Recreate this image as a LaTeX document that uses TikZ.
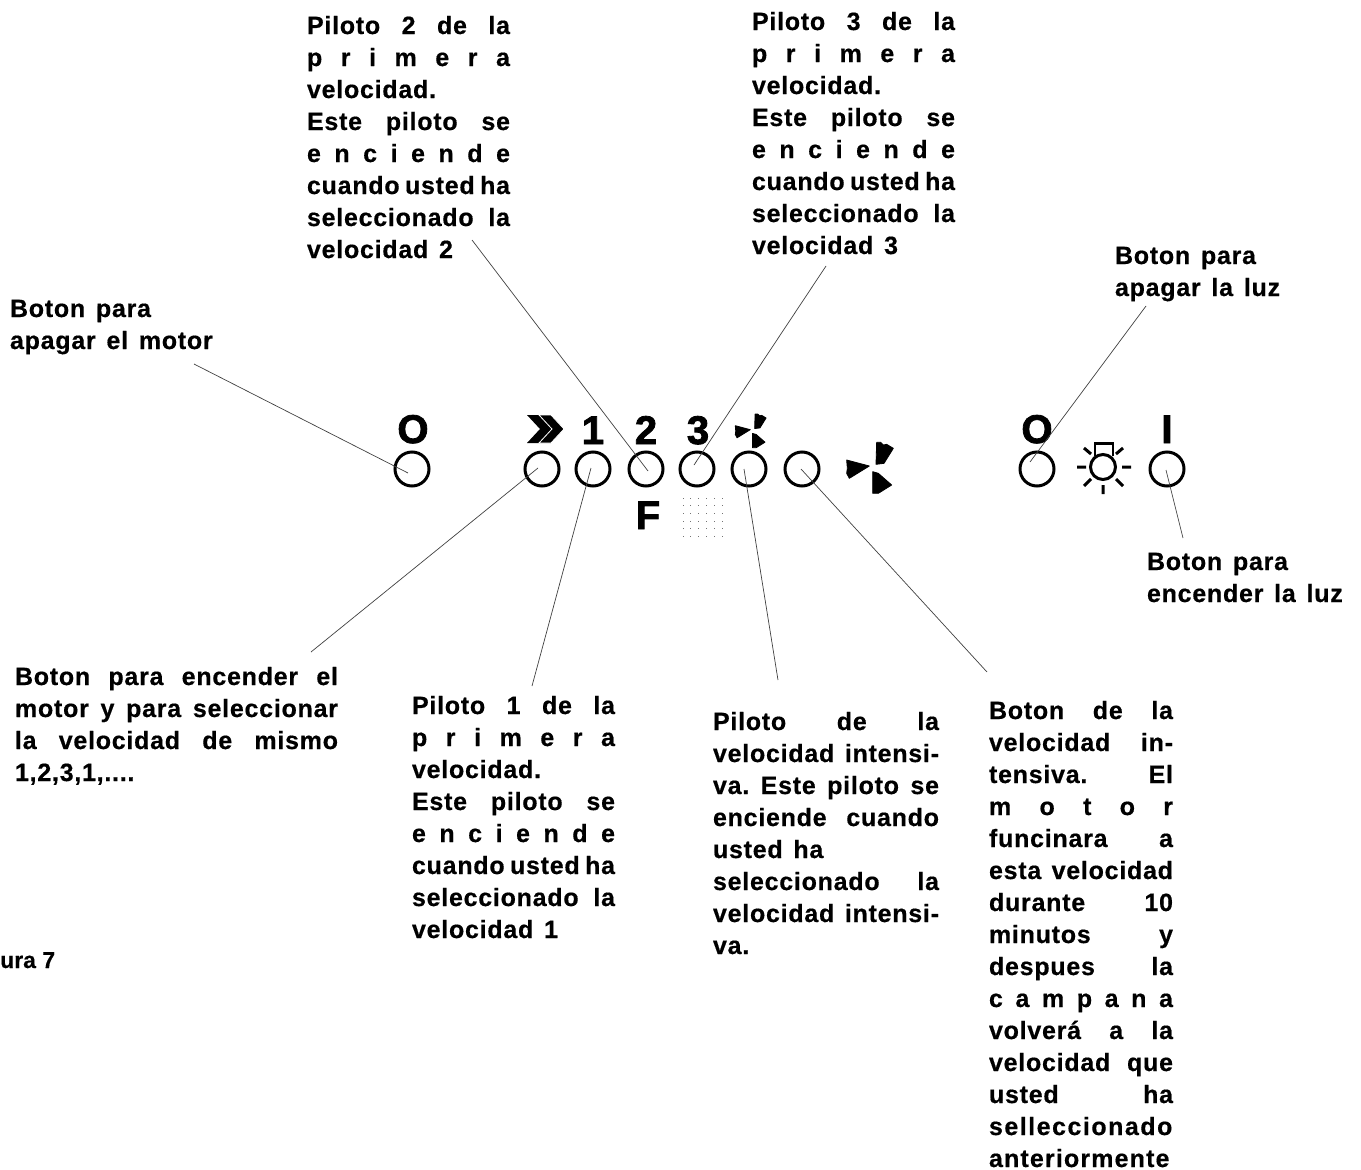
\documentclass[tikz,border=0pt]{standalone}
\usepackage{fontspec}
\setmainfont{Liberation Sans}
\newfontfamily\lblfont{Liberation Sans Bold}[LetterSpace=3,WordSpace=1.4,FakeBold=0.5]
\newfontfamily\symfont{Liberation Sans Bold}[FakeBold=2]
\newfontfamily\figfont{Liberation Sans Bold}[FakeBold=0.5]
\newcommand\Tf{\lblfont\fontsize{25}{32}\selectfont}
\newcommand\Ts{\rule{0pt}{20pt}}
\newcommand\J[2]{\makebox[#1pt][s]{#2}}
\newcommand\tsp{\hspace{3pt plus 30pt}}
\tikzset{
 x=1pt,y=-1pt,
 txt/.style={anchor=north west,inner sep=0pt,outer sep=0pt,align=left,font=\Tf,text=black},
 btn/.style={circle,draw=black,line width=3pt,minimum size=34pt,inner sep=0pt,outer sep=0pt},
 sym/.style={inner sep=0pt,font=\symfont\fontsize{40}{40}\selectfont,text=black,anchor=base},
 lead/.style={draw=black!75,line width=0.7pt},
 wedge/.style={fill=black,draw=black,line width=0.8pt,line join=round},
}
\newcommand\fanshape[3]{% x, y, scale
  \begin{scope}[shift={(#1,#2)},x=#3*0.3333pt,y=-#3*0.3333pt,shift={(-435,-180)}]
  \path[wedge] (438,178) -- (440,112) -- (452,112) -- (460,120) -- (470,118) -- (490,130) -- (462,175) -- cycle;
  \path[wedge] (418,183) -- (350,165) -- (352,190) -- (350,205) -- (358,220) -- cycle;
  \path[wedge] (428,200) -- (428,265) -- (445,265) -- (485,240) -- (445,205) -- cycle;
  \end{scope}
}
\begin{document}
\begin{tikzpicture}
\useasboundingbox (0,0) rectangle (1361,1170);
% buttons
\node[btn] (bMotor) at (412,469) {};
\node[btn] (bSel) at (542,469) {};
\node[btn] (b1) at (593,469) {};
\node[btn] (b2) at (646,469) {};
\node[btn] (b3) at (697,469) {};
\node[btn] (bF) at (749,469) {};
\node[btn] (bI) at (802,469) {};
\node[btn] (bOff) at (1037,469) {};
\node[btn] (bOn) at (1167,469) {};
% symbols
\node[sym] (sO) at (413,443) {O};
\node[sym] (s1) at (593,444) {1};
\node[sym] (s2) at (646,444) {2};
\node[sym] (s3) at (698,444) {3};
\node[sym] (sF) at (648,529) {F};
\node[sym] (sO2) at (1037,443) {O};
\node[sym] (sI) at (1167,443) {I};
\path[fill=black] (527,415) -- (539,415) -- (552,429) -- (539,443) -- (527,443) -- (540,429) -- cycle;
\path[fill=black,draw=white,line width=0.8pt] (539,415) -- (551,415) -- (564,429) -- (551,443) -- (539,443) -- (552,429) -- cycle;
\fanshape{875}{465}{1}
\fanshape{754}{429}{0.66}
% dots
\foreach \i in {0,...,5}\foreach \j in {0,...,5}
  \fill[black!55] ({683+7.8*\i-0.5},{498+7.7*\j-0.5}) rectangle ++(1,1);
% lamp
\node[circle,draw=black,line width=3pt,minimum size=25pt,inner sep=0pt] (lamp) at (1103,467) {};
\draw[black,line width=2.6pt] (1095,456) -- (1095,443.5) -- (1113,443.5) -- (1113,456);
\draw[black,line width=3pt] (1077,467) -- (1086,467) (1122,467) -- (1131,467) (1103,485) -- (1103,494)
  (1084,448) -- (1091,454) (1123,448) -- (1116,454) (1084,486) -- (1091,479) (1123,486) -- (1116,479);
% labels
\node[txt] (tMotor) at (10,297) {\Ts Boton para\\apagar el motor};
\node[txt] (t2) at (307,14) {\Ts\J{203}{Piloto 2 de la}\\\J{203}{p r i m e r a}\\velocidad.\\\J{203}{Este piloto se}\\\J{203}{e n c i e n d e}\\\J{203}{cuando\tsp usted\tsp ha}\\\J{203}{seleccionado\tsp la}\\velocidad 2};
\node[txt] (t3) at (752,10) {\Ts\J{203}{Piloto 3 de la}\\\J{203}{p r i m e r a}\\velocidad.\\\J{203}{Este piloto se}\\\J{203}{e n c i e n d e}\\\J{203}{cuando\tsp usted\tsp ha}\\\J{203}{seleccionado\tsp la}\\velocidad 3};
\node[txt] (tOff) at (1115,244) {\Ts Boton para\\apagar la luz};
\node[txt] (tOn) at (1147,550) {\Ts Boton para\\encender la luz};
\node[txt] (tSel) at (15,665) {\Ts\J{323}{Boton para encender el}\\\J{323}{motor y para seleccionar}\\\J{323}{la velocidad de mismo}\\1,2,3,1,....};
\node[txt] (t1) at (412,694) {\Ts\J{203}{Piloto 1 de la}\\\J{203}{p r i m e r a}\\velocidad.\\\J{203}{Este piloto se}\\\J{203}{e n c i e n d e}\\\J{203}{cuando\tsp usted\tsp ha}\\\J{203}{seleccionado\tsp la}\\velocidad 1};
\node[txt] (tF) at (713,710) {\Ts\J{226}{Piloto de la}\\\J{226}{velocidad\tsp intensi-}\\\J{226}{va.\tsp Este\tsp piloto\tsp se}\\\J{226}{enciende cuando}\\usted ha\\\J{226}{seleccionado la}\\\J{226}{velocidad\tsp intensi-}\\va.};
\node[txt] (tI) at (989,699) {\Ts\J{184}{Boton de la}\\\J{184}{velocidad in-}\\\J{184}{tensiva. El}\\\J{184}{m o t o r}\\\J{184}{funcinara a}\\\J{184}{esta\tsp velocidad}\\\J{184}{durante 10}\\\J{184}{minutos y}\\\J{184}{despues la}\\\J{184}{c a m p a n a}\\\J{184}{volverá a la}\\\J{184}{velocidad\tsp que}\\\J{184}{usted ha}\\{\addfontfeature{LetterSpace=6}selleccionado}\\{\addfontfeature{LetterSpace=4.6}anteriormente}};
\node[anchor=base west,inner sep=0pt,font=\figfont\fontsize{23}{28}\selectfont] (tFig) at (0,968) {ura 7};
% connectors
\coordinate (aMotor) at (194,364); \coordinate (eMotor) at (408,473);
\coordinate (aSel) at (311,652); \coordinate (eSel) at (538,468);
\coordinate (a1) at (532,686); \coordinate (e1) at (591,468);
\coordinate (a2) at (472,240); \coordinate (e2) at (648,471);
\coordinate (a3) at (826,266); \coordinate (e3) at (694,465);
\coordinate (aF) at (778,680); \coordinate (eF) at (744,469);
\coordinate (aI) at (987,672); \coordinate (eI) at (801,469);
\coordinate (aOff) at (1146,306); \coordinate (eOff) at (1030,462);
\coordinate (aOn) at (1183,538); \coordinate (eOn) at (1166,470);
\draw[lead] (aMotor) -- (eMotor);
\draw[lead] (aSel) -- (eSel);
\draw[lead] (a1) -- (e1);
\draw[lead] (a2) -- (e2);
\draw[lead] (a3) -- (e3);
\draw[lead] (aF) -- (eF);
\draw[lead] (aI) -- (eI);
\draw[lead] (aOff) -- (eOff);
\draw[lead] (aOn) -- (eOn);
\end{tikzpicture}
\end{document}
